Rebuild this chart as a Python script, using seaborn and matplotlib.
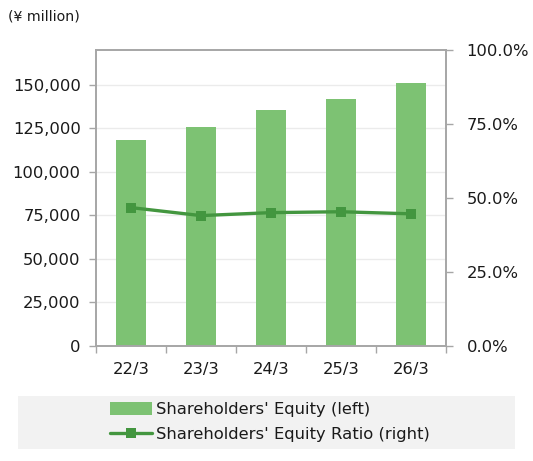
import matplotlib
matplotlib.use("Agg")
import matplotlib.pyplot as plt
import seaborn as sns
import pandas as pd
from matplotlib.patches import Rectangle
from matplotlib.ticker import FuncFormatter, FixedLocator

categories = ["22/3", "23/3", "24/3", "25/3", "26/3"]
equity = [118000, 125500, 135300, 141600, 151300]
equity_ratio = [0.467, 0.440, 0.450, 0.453, 0.446]
left_ticks = [0, 25000, 50000, 75000, 100000, 125000, 150000]
right_ticks = [0.0, 0.25, 0.5, 0.75, 1.0]
label_bar = "Shareholders' Equity (left)"
label_line = "Shareholders' Equity Ratio (right)"
unit_label = "(¥ million)"

df = pd.DataFrame({"period": categories, "equity": equity, "ratio": equity_ratio})

sns.set_theme(style="white")
plt.rcParams["font.family"] = ["DejaVu Sans"]

BAR_C = "#7DC273"
LINE_C = "#43963F"
AX_C = "#A6A6A6"
TXT_C = "#1a1a1a"
FS = 11.8

L, R, T, B = 96.0, 445.7, 50.0, 345.7
fig = plt.figure(figsize=(5.33, 4.61), dpi=100)
ax = fig.add_axes([L / 533, 1 - B / 461, (R - L) / 533, (B - T) / 461])

sns.barplot(data=df, x="period", y="equity", color=BAR_C, width=0.425,
            saturation=1, ax=ax, label=label_bar, legend=False, linewidth=0)
ax.set_xlim(-0.5, 4.5)
ax.set_ylim(0, 170000)
ax.yaxis.set_major_locator(FixedLocator(left_ticks))
ax.yaxis.set_major_formatter(FuncFormatter(lambda v, p: f"{int(v):,}"))
ax.grid(axis="y", color="#EBEBEB", linewidth=1)
ax.set_axisbelow(True)
ax.set_xlabel("")
ax.set_ylabel("")

ax2 = ax.twinx()
sns.lineplot(data=df, x="period", y="ratio", color=LINE_C, linewidth=2.4,
             marker="s", markersize=7.5, markeredgewidth=0, ax=ax2, label=label_line,
             legend=False)
ax2.set_ylim(0, 1.0)
ax2.yaxis.set_major_locator(FixedLocator(right_ticks))
ax2.yaxis.set_major_formatter(FuncFormatter(lambda v, p: f"{v * 100:.1f}%"))
ax2.set_xlim(-0.5, 4.5)
ax2.set_ylabel("")
ax2.set_xlabel("")
ax2.grid(False)

for a in (ax, ax2):
    for s in a.spines.values():
        s.set_color(AX_C)
        s.set_linewidth(1.2)
        s.set_visible(True)

ax.tick_params(axis="y", which="major", left=True, length=5, width=1, color=AX_C,
               labelsize=FS, labelcolor=TXT_C, pad=6)
ax.tick_params(axis="x", which="both", bottom=False, labelsize=FS, labelcolor=TXT_C, pad=6)
ax.set_xticks([0, 1, 2, 3, 4])
ax.set_xticklabels(categories)
ax.set_xticks([-0.5, 0.5, 1.5, 2.5, 3.5, 4.5], minor=True)
ax.tick_params(axis="x", which="minor", bottom=True, length=5, width=1, color=AX_C)
ax2.tick_params(axis="y", right=True, length=5, width=1, color=AX_C,
                labelsize=FS, labelcolor=TXT_C, pad=10)

fig.text(8 / 533, 1 - 17 / 461, unit_label, fontsize=10.2, color=TXT_C, va="center", ha="left")

fig.patches.append(Rectangle((18 / 533, 1 - 449 / 461), (515 - 18) / 533, (449 - 396) / 461,
                             transform=fig.transFigure, facecolor="#F2F2F2",
                             edgecolor="none", zorder=0))

h1, l1 = ax.get_legend_handles_labels()
h2, l2 = ax2.get_legend_handles_labels()
leg = fig.legend(h1 + h2, l1 + l2, loc="upper left",
                 bbox_to_anchor=(110 / 533, 1 - 402 / 461),
                 frameon=False, fontsize=FS, handlelength=2.55, handletextpad=0.25,
                 handleheight=0.8, labelspacing=0.58, borderpad=0, borderaxespad=0)
for t in leg.get_texts():
    t.set_color(TXT_C)

fig.savefig("out.png", dpi=100)
